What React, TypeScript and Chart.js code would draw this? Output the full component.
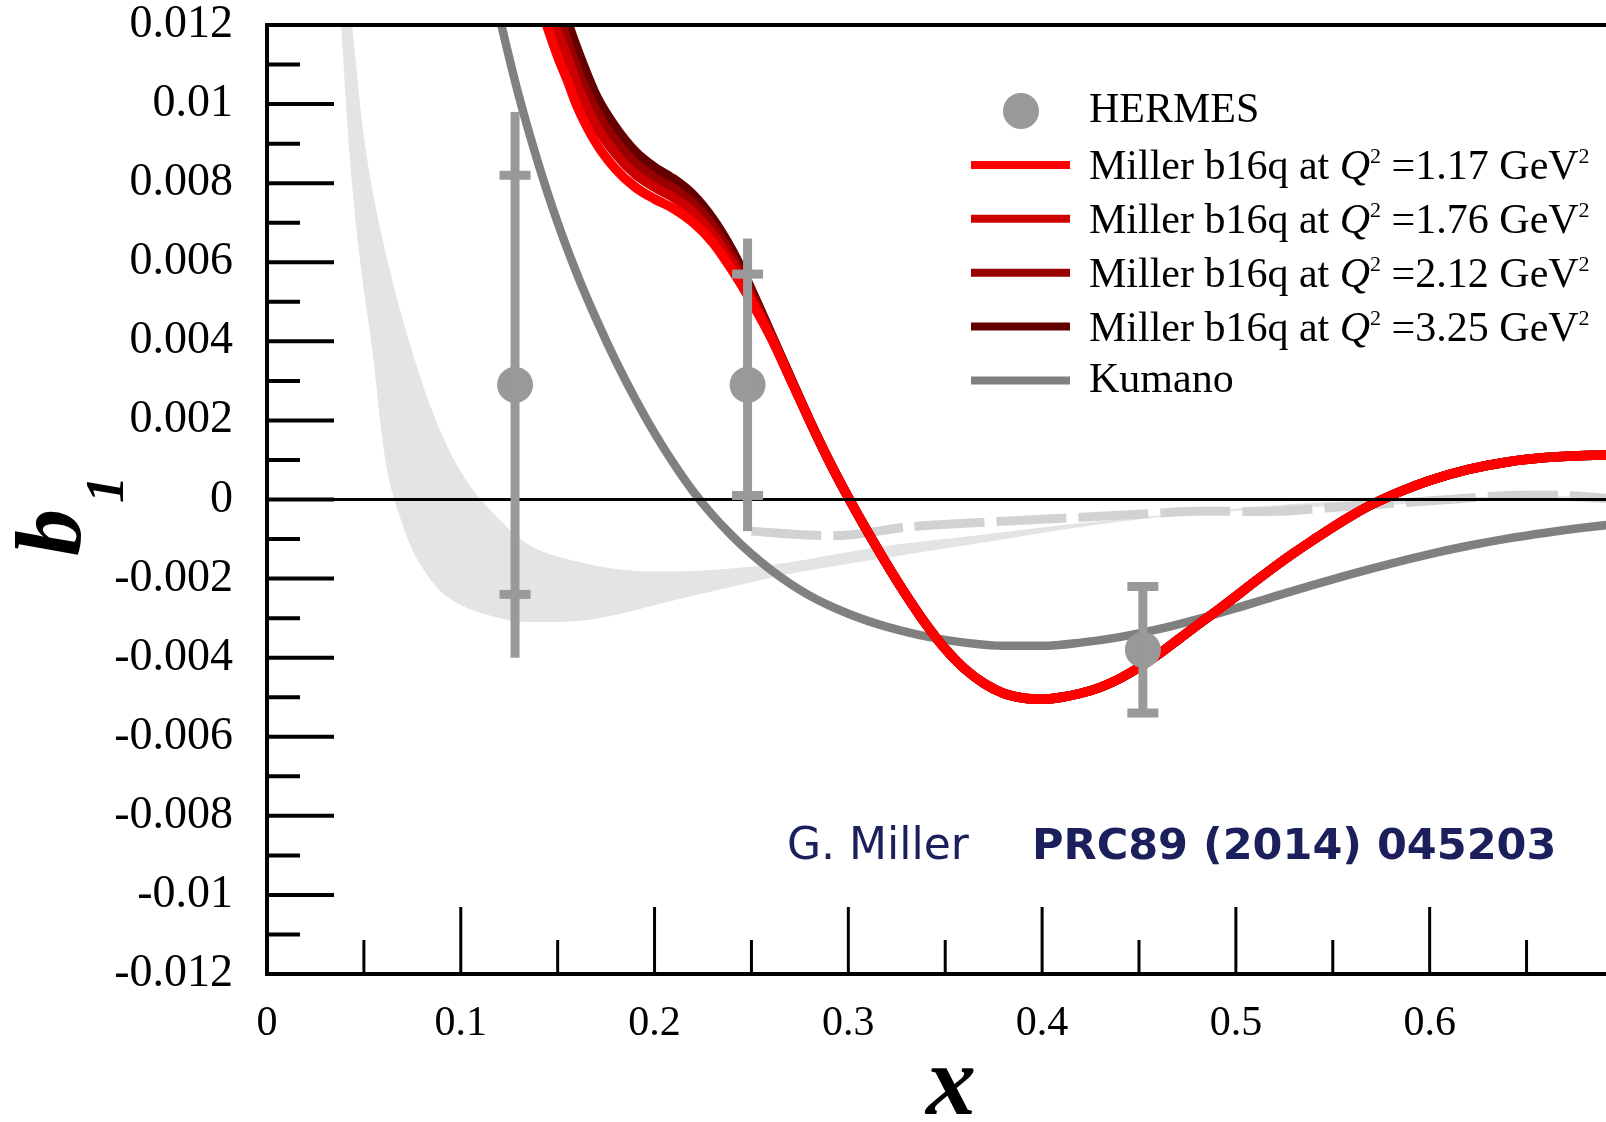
import React, { useEffect, useRef } from "react";
import { Chart, registerables } from "chart.js";

Chart.register(...registerables);

// ---------------- data ----------------
const xMajorTicks = [0, 0.1, 0.2, 0.3, 0.4, 0.5, 0.6];
const xMinorTicks = [0.05, 0.15, 0.25, 0.35, 0.45, 0.55, 0.65];
const yMajorTicks = [-0.012, -0.01, -0.008, -0.006, -0.004, -0.002, 0, 0.002, 0.004, 0.006, 0.008, 0.01, 0.012];
const yMinorTicks = [-0.011, -0.009, -0.007, -0.005, -0.003, -0.001, 0.001, 0.003, 0.005, 0.007, 0.009, 0.011];

const hermesX = [0.128, 0.248, 0.452];
const hermesY = [0.0029, 0.0029, -0.0038];
const hermesStatErr = [0.0053, 0.0028, 0.0016];
const hermesTotErr = [0.0069, 0.0037, 0.0016];

const millerQ2 = ["1.17", "1.76", "2.12", "3.25"];
const millerHeadX = [0.14, 0.145, 0.15, 0.155, 0.16, 0.17, 0.18, 0.19, 0.2, 0.21, 0.22, 0.23, 0.24, 0.25, 0.26, 0.27];
const miller117Head = [0.0126, 0.0119, 0.0112, 0.0106, 0.00995, 0.009, 0.00835, 0.0079, 0.0076, 0.00735, 0.007, 0.0065, 0.0058, 0.005, 0.0041, 0.00305];
const miller176Head = [0.0133, 0.0126, 0.0118, 0.0112, 0.0105, 0.00945, 0.00874, 0.00823, 0.0079, 0.00763, 0.00726, 0.00672, 0.00598, 0.00511, 0.00414, 0.00307];
const miller212Head = [0.0139, 0.0131, 0.0124, 0.0116, 0.0109, 0.00982, 0.00906, 0.00851, 0.00814, 0.00786, 0.00748, 0.00691, 0.00614, 0.0052, 0.00417, 0.00308];
const miller325Head = [0.0145, 0.0137, 0.0129, 0.0121, 0.0114, 0.0102, 0.0094, 0.0088, 0.0084, 0.0081, 0.0077, 0.0071, 0.0063, 0.0053, 0.0042, 0.0031];
const millerTailX = [0.28, 0.29, 0.3, 0.31, 0.32, 0.33, 0.34, 0.35, 0.36, 0.37, 0.38, 0.39, 0.4, 0.41, 0.42, 0.43, 0.44, 0.45, 0.46, 0.47, 0.48, 0.49, 0.5, 0.51, 0.52, 0.53, 0.54, 0.55, 0.56, 0.57, 0.58, 0.59, 0.6, 0.62, 0.64, 0.66, 0.68, 0.7];
const millerTailY = [0.002, 0.00098, 0.00005, -0.00082, -0.00165, -0.00243, -0.00315, -0.00378, -0.00428, -0.00465, -0.0049, -0.00502, -0.00505, -0.005, -0.0049, -0.00475, -0.00453, -0.00425, -0.00392, -0.00355, -0.00318, -0.00282, -0.00245, -0.00207, -0.0017, -0.00135, -0.00102, -0.0007, -0.0004, -0.00013, 0.0001, 0.0003, 0.00048, 0.00076, 0.00095, 0.00106, 0.00111, 0.00113];

const kumanoX = [0.115, 0.12, 0.13, 0.14, 0.15, 0.16, 0.17, 0.18, 0.19, 0.2, 0.21, 0.22, 0.23, 0.24, 0.25, 0.26, 0.27, 0.28, 0.29, 0.3, 0.31, 0.32, 0.34, 0.36, 0.38, 0.4, 0.42, 0.44, 0.46, 0.48, 0.5, 0.52, 0.54, 0.56, 0.58, 0.6, 0.62, 0.64, 0.66, 0.68, 0.7];
const kumanoY = [0.0133, 0.0122, 0.0102, 0.0085, 0.007, 0.0057, 0.00455, 0.0035, 0.00255, 0.00168, 0.0009, 0.0002, -0.0004, -0.00092, -0.00138, -0.00178, -0.00213, -0.00243, -0.00268, -0.00289, -0.00307, -0.00322, -0.00346, -0.00362, -0.0037, -0.0037, -0.00362, -0.00348, -0.00328, -0.00303, -0.00275, -0.00245, -0.00216, -0.00188, -0.00162, -0.00138, -0.00117, -0.00099, -0.00084, -0.00071, -0.0006];

const dashX = [0.25, 0.28, 0.3, 0.33, 0.36, 0.4, 0.44, 0.48, 0.52, 0.55, 0.58, 0.61, 0.64, 0.67, 0.7];
const dashY = [-0.0008, -0.0009, -0.0009, -0.0007, -0.0006, -0.0005, -0.0004, -0.0003, -0.0003, -0.0002, -0.0001, 0.0, 0.0001, 0.0001, 0.0];

const bandOuterX = [0.0372, 0.0382, 0.0425, 0.0476, 0.0545, 0.0614, 0.0683, 0.0786, 0.0941, 0.1199, 0.1457, 0.1715, 0.2059, 0.2403, 0.2678, 0.3163, 0.3679, 0.4195, 0.4711, 0.533, 0.6, 0.65, 0.7];
const bandOuterY = [0.0125, 0.012, 0.0088, 0.0062, 0.0037, 0.0009, -0.0004, -0.0016, -0.0025, -0.003, -0.0031, -0.003, -0.0026, -0.0022, -0.0019, -0.0015, -0.0011, -0.0007, -0.0004, -0.0002, -0.0001, 0.0, -0.0001];
const bandInnerX = [0.043, 0.0439, 0.0511, 0.0614, 0.0752, 0.0889, 0.1027, 0.1199, 0.1371, 0.1629, 0.1887, 0.2231, 0.2489, 0.2678, 0.3163, 0.3679, 0.4195, 0.533, 0.6, 0.65, 0.7];
const bandInnerY = [0.0125, 0.012, 0.0088, 0.0062, 0.0037, 0.0018, 0.0005, -0.0005, -0.0012, -0.0016, -0.0018, -0.0018, -0.0017, -0.0016, -0.0012, -0.0009, -0.0006, -0.0001, 0.0, 0.0001, 0.0];

// ---------------- styles ----------------
const W = 1606;
const H = 1122;
const SERIF = '"Liberation Serif", "Times New Roman", serif';
const MILLER_COLORS = ["#ff0000", "#cc0000", "#990000", "#640000"];
const KUMANO_COLOR = "#808080";
const HERMES_COLOR = "#999999";
const BAND_COLOR = "#e4e4e4";
const DASH_COLOR = "#d2d2d2";
const NOTE_COLOR = "#1b1f5c";

const pts = (xs: number[], ys: number[]) => xs.map((x, i) => ({ x, y: ys[i] }));

const fmt = (v: number) => String(+Number(v).toFixed(4));

function drawRich(ctx: CanvasRenderingContext2D, parts: { t: string; f: string; dy?: number }[], x: number, y: number) {
  let cx = x;
  for (const p of parts) {
    ctx.font = p.f;
    ctx.fillText(p.t, cx, y + (p.dy || 0));
    cx += ctx.measureText(p.t).width;
  }
}

const overlay = {
  id: "overlay",
  afterDatasetsDraw(chart: any) {
    const { ctx, chartArea: a } = chart;
    const xs = chart.scales.x;
    const ys = chart.scales.y;
    ctx.save();
    const y0 = ys.getPixelForValue(0);
    ctx.strokeStyle = "#000";
    ctx.lineWidth = 3;
    ctx.beginPath();
    ctx.moveTo(a.left, y0);
    ctx.lineTo(a.right, y0);
    ctx.stroke();
    ctx.fillStyle = HERMES_COLOR;
    hermesX.forEach((xv, i) => {
      const px = xs.getPixelForValue(xv);
      const yt = ys.getPixelForValue(hermesY[i] + hermesTotErr[i]);
      const yb = ys.getPixelForValue(hermesY[i] - hermesTotErr[i]);
      ctx.fillRect(px - 4.5, yt, 9, yb - yt);
      const cu = ys.getPixelForValue(hermesY[i] + hermesStatErr[i]);
      const cl = ys.getPixelForValue(hermesY[i] - hermesStatErr[i]);
      ctx.fillRect(px - 15.5, cu - 4.5, 31, 9);
      ctx.fillRect(px - 15.5, cl - 4.5, 31, 9);
    });
    ctx.restore();
  },
  afterDraw(chart: any) {
    const { ctx, chartArea: a } = chart;
    const xs = chart.scales.x;
    const ys = chart.scales.y;
    ctx.save();
    ctx.strokeStyle = "#000";
    ctx.lineWidth = 4;
    ctx.beginPath();
    for (const v of yMajorTicks) {
      const py = ys.getPixelForValue(v);
      ctx.moveTo(a.left, py);
      ctx.lineTo(a.left + 67, py);
    }
    for (const v of yMinorTicks) {
      const py = ys.getPixelForValue(v);
      ctx.moveTo(a.left, py);
      ctx.lineTo(a.left + 33, py);
    }
    ctx.stroke();
    ctx.lineWidth = 3;
    ctx.beginPath();
    for (const v of xMajorTicks) {
      const px = xs.getPixelForValue(v);
      ctx.moveTo(px, a.bottom);
      ctx.lineTo(px, a.bottom - 67);
    }
    for (const v of xMinorTicks) {
      const px = xs.getPixelForValue(v);
      ctx.moveTo(px, a.bottom);
      ctx.lineTo(px, a.bottom - 34);
    }
    ctx.stroke();
    ctx.lineWidth = 4;
    ctx.beginPath();
    ctx.moveTo(a.right, a.top);
    ctx.lineTo(a.left, a.top);
    ctx.lineTo(a.left, a.bottom);
    ctx.lineTo(a.right, a.bottom);
    ctx.stroke();

    // legend
    const lx0 = 971, lx1 = 1070, tx = 1089, row0 = 111, step = 53.9;
    ctx.textBaseline = "middle";
    ctx.textAlign = "left";
    ctx.fillStyle = HERMES_COLOR;
    ctx.beginPath();
    ctx.arc(1021, row0, 18, 0, Math.PI * 2);
    ctx.fill();
    ctx.fillStyle = "#000";
    ctx.font = `42px ${SERIF}`;
    ctx.fillText("HERMES", tx, row0);
    millerQ2.forEach((q, i) => {
      const y = row0 + step * (i + 1);
      ctx.strokeStyle = MILLER_COLORS[i];
      ctx.lineWidth = 8;
      ctx.beginPath();
      ctx.moveTo(lx0, y);
      ctx.lineTo(lx1, y);
      ctx.stroke();
      ctx.fillStyle = "#000";
      ctx.textBaseline = "alphabetic";
      drawRich(ctx, [
        { t: "Miller b16q at ", f: `42px ${SERIF}` },
        { t: "Q", f: `italic 42px ${SERIF}` },
        { t: "2", f: `22px ${SERIF}`, dy: -16 },
        { t: " =" + q + " GeV", f: `42px ${SERIF}` },
        { t: "2", f: `22px ${SERIF}`, dy: -16 },
      ], tx, y + 14);
      ctx.textBaseline = "middle";
    });
    const ky = row0 + step * 5;
    ctx.strokeStyle = KUMANO_COLOR;
    ctx.lineWidth = 8;
    ctx.beginPath();
    ctx.moveTo(lx0, ky);
    ctx.lineTo(lx1, ky);
    ctx.stroke();
    ctx.fillStyle = "#000";
    ctx.font = `42px ${SERIF}`;
    ctx.fillText("Kumano", tx, ky);

    // annotation
    ctx.fillStyle = NOTE_COLOR;
    ctx.font = `44px "DejaVu Sans", sans-serif`;
    ctx.fillText("G. Miller", 787, 848);
    ctx.font = `bold 43px "DejaVu Sans", sans-serif`;
    ctx.fillText("PRC89 (2014) 045203", 1032, 848);

    // x axis title
    ctx.fillStyle = "#000";
    ctx.textAlign = "center";
    ctx.textBaseline = "alphabetic";
    ctx.font = `bold italic 100px ${SERIF}`;
    ctx.fillText("x", 951, 1114);

    // y axis title b_1
    ctx.save();
    ctx.translate(80, 556);
    ctx.rotate(-Math.PI / 2);
    ctx.textAlign = "left";
    ctx.font = `bold italic 94px ${SERIF}`;
    ctx.fillText("b", 0, 0);
    const bw = ctx.measureText("b").width;
    ctx.font = `bold italic 54px ${SERIF}`;
    ctx.fillText("1", bw + 6, 43);
    ctx.restore();

    ctx.restore();
  },
};

function buildConfig(): any {
  const bandPoly = [
    ...pts(bandOuterX, bandOuterY),
    ...pts(bandInnerX, bandInnerY).reverse(),
  ];
  const millerHeads = [miller117Head, miller176Head, miller212Head, miller325Head];
  const millerSets = millerQ2.map((q, i) => ({
    label: `Miller b16q at Q² =${q} GeV²`,
    data: [...pts(millerHeadX, millerHeads[i]), ...pts(millerTailX, millerTailY)],
    borderColor: MILLER_COLORS[i],
    backgroundColor: MILLER_COLORS[i],
    borderWidth: 9.5,
    pointRadius: 0,
    cubicInterpolationMode: "monotone",
    fill: false,
    order: 1 + i,
  }));
  return {
    type: "line",
    data: {
      datasets: [
        {
          label: "HERMES",
          data: pts(hermesX, hermesY),
          showLine: false,
          pointRadius: 18,
          pointHoverRadius: 18,
          pointBorderWidth: 0,
          pointBackgroundColor: HERMES_COLOR,
          pointBorderColor: HERMES_COLOR,
          order: 0,
        },
        ...millerSets,
        {
          label: "Kumano",
          data: pts(kumanoX, kumanoY),
          borderColor: KUMANO_COLOR,
          borderWidth: 8.5,
          pointRadius: 0,
          cubicInterpolationMode: "monotone",
          fill: false,
          order: 6,
        },
        {
          label: "dashed",
          data: pts(dashX, dashY),
          borderColor: DASH_COLOR,
          borderWidth: 9,
          borderDash: [70, 12],
          borderCapStyle: "butt",
          pointRadius: 0,
          tension: 0.3,
          fill: false,
          order: 7,
        },
        {
          label: "band",
          data: bandPoly,
          borderColor: "rgba(0,0,0,0)",
          borderWidth: 0,
          backgroundColor: BAND_COLOR,
          pointRadius: 0,
          tension: 0.35,
          fill: "shape",
          order: 8,
        },
      ],
    },
    options: {
      responsive: false,
      maintainAspectRatio: false,
      devicePixelRatio: 1,
      animation: false,
      events: [],
      layout: { padding: 0, autoPadding: false },
      plugins: {
        legend: { display: false },
        tooltip: { enabled: false },
        title: { display: false },
      },
      scales: {
        x: {
          type: "linear",
          position: "bottom",
          min: 0,
          max: 0.691,
          grid: { display: false, drawTicks: false },
          border: { display: false },
          afterBuildTicks: (s: any) => {
            s.ticks = xMajorTicks.map((v) => ({ value: v }));
          },
          afterFit: (s: any) => {
            s.height = 148;
            s.paddingLeft = 0;
            s.paddingRight = 0;
          },
          ticks: {
            autoSkip: false,
            maxRotation: 0,
            padding: 25,
            color: "#000",
            font: { family: SERIF, size: 42 },
            callback: (v: any) => fmt(Number(v)),
          },
        },
        y: {
          type: "linear",
          position: "left",
          min: -0.012,
          max: 0.012,
          grid: { display: false, drawTicks: false },
          border: { display: false },
          afterBuildTicks: (s: any) => {
            s.ticks = yMajorTicks.map((v) => ({ value: v }));
          },
          afterFit: (s: any) => {
            s.width = 267;
            s.paddingTop = 25;
            s.paddingBottom = 0;
          },
          ticks: {
            autoSkip: false,
            padding: 34,
            color: "#000",
            font: { family: SERIF, size: 46, lineHeight: 1 },
            callback: (v: any) => fmt(Number(v)),
          },
        },
      },
    },
    plugins: [overlay],
  };
}

export default function App() {
  const ref = useRef<HTMLCanvasElement>(null);
  useEffect(() => {
    const canvas = ref.current;
    if (!canvas) return;
    const chart = new Chart(canvas, buildConfig());
    return () => chart.destroy();
  }, []);
  return (
    <div style={{ position: "absolute", left: 0, top: 0, width: W, height: H, background: "#fff" }}>
      <canvas ref={ref} width={W} height={H} style={{ display: "block", width: W, height: H }} />
    </div>
  );
}
